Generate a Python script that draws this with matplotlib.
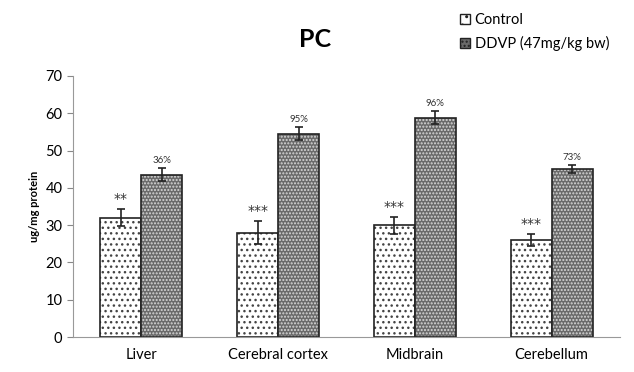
import numpy as np
import matplotlib
matplotlib.use("Agg")
import matplotlib.pyplot as plt
from matplotlib.patches import Patch

categories = ["Liver", "Cerebral cortex", "Midbrain", "Cerebellum"]
control = [32, 28, 30, 26]
control_err = [2.2, 3.0, 2.3, 1.5]
ddvp = [43.5, 54.5, 58.8, 45]
ddvp_err = [1.8, 1.7, 1.8, 1.0]
stars = ["**", "***", "***", "***"]
pct = ["36%", "95%", "96%", "73%"]

plt.rcParams['font.family'] = ['Lato', 'DejaVu Sans']
plt.rcParams['hatch.linewidth'] = 1.0

fig = plt.figure(figsize=(6.34, 3.72), dpi=100)
ax = fig.add_axes([0.115, 0.094, 0.863, 0.702])

x = np.arange(len(categories))
w = 0.3

# control bars: white with dots
b1 = ax.bar(x - w/2, control, w, color='white', edgecolor='#444444', hatch='...', linewidth=0)
ax.bar(x - w/2, control, w, fill=False, edgecolor='#222222', linewidth=1.2)
# ddvp bars: dark checkered
b2 = ax.bar(x + w/2, ddvp, w, color='#6a6a6a', edgecolor='#d8d8d8', hatch='.....', linewidth=0)
ax.bar(x + w/2, ddvp, w, fill=False, edgecolor='#222222', linewidth=1.2)

ax.errorbar(x - w/2, control, yerr=control_err, fmt='none', ecolor='#222222', capsize=3, elinewidth=1.2, capthick=1.2)
ax.errorbar(x + w/2, ddvp, yerr=ddvp_err, fmt='none', ecolor='#222222', capsize=3, elinewidth=1.2, capthick=1.2)

for i in range(len(categories)):
    ax.text(x[i] - w/2, control[i] + control_err[i] + 0.8, stars[i], ha='center', va='bottom',
            fontsize=10, color='#333333', family='DejaVu Sans')
    ax.text(x[i] + w/2, ddvp[i] + ddvp_err[i] + 0.8, pct[i], ha='center', va='bottom', fontsize=7, color='#333333')

ax.set_xlim(-0.5, 3.5)
ax.set_ylim(0, 70)
ax.set_yticks(range(0, 71, 10))
ax.set_xticks(x)
ax.set_xticklabels(categories)
ax.tick_params(axis='x', length=0, labelsize=10.5, pad=8)
ax.tick_params(axis='y', labelsize=10.5, color='#888888', length=4)
for s in ['top', 'right']:
    ax.spines[s].set_visible(False)
ax.spines['left'].set_color('#999999')
ax.spines['bottom'].set_color('#999999')
ax.set_ylabel("ug/mg protein", fontsize=8, fontweight='bold')

fig.text(0.497, 0.895, "PC", ha='center', va='center', fontsize=18, fontweight='bold')

handles = [Patch(facecolor='white', edgecolor='#222222', hatch='..'),
           Patch(facecolor='#6a6a6a', edgecolor='#222222', hatch='....')]
fig.legend(handles, ["Control", "DDVP (47mg/kg bw)"], loc='upper left', bbox_to_anchor=(0.705, 1.0),
           frameon=False, fontsize=10.5, handlelength=0.7, handleheight=0.7, handletextpad=0.3, labelspacing=0.6)

fig.savefig("out.png", dpi=100)
